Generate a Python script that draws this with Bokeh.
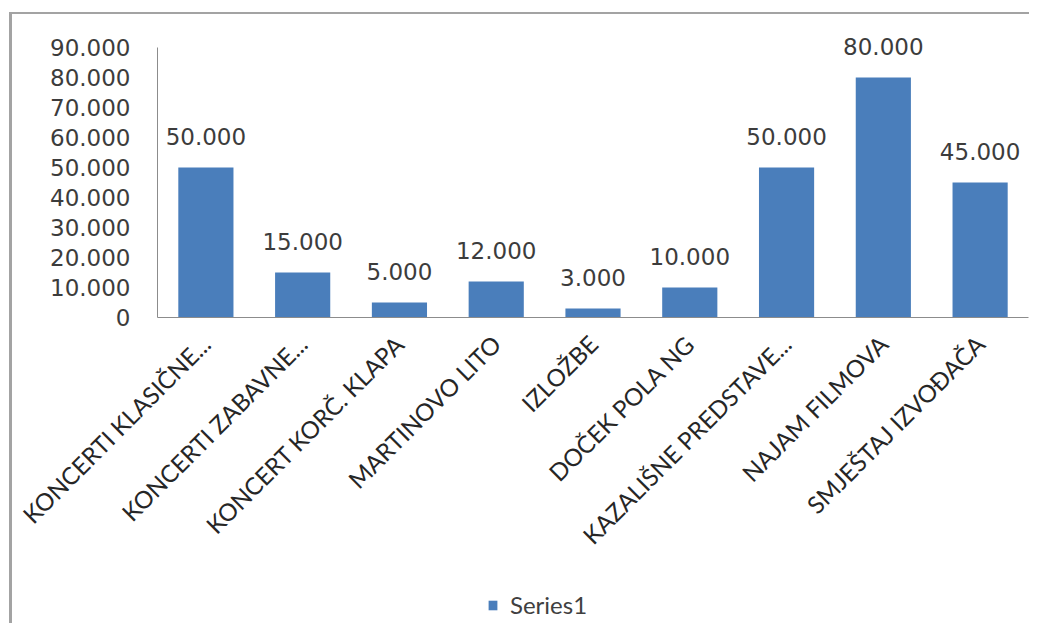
import math
from bokeh.plotting import figure
from bokeh.layouts import column
from bokeh.models import ColumnDataSource, FixedTicker, CustomJSTickFormatter, Legend, LegendItem
from bokeh.core.properties import value
from bokeh.embed import file_html
from bokeh.resources import INLINE

categories = ["KONCERTI KLASIČNE...", "KONCERTI ZABAVNE...", "KONCERT KORČ. KLAPA",
              "MARTINOVO LITO", "IZLOŽBE", "DOČEK POLA NG", "KAZALIŠNE PREDSTAVE...",
              "NAJAM FILMOVA", "SMJEŠTAJ IZVOĐAČA"]
values = [50000, 15000, 5000, 12000, 3000, 10000, 50000, 80000, 45000]
y_ticks = [0, 10000, 20000, 30000, 40000, 50000, 60000, 70000, 80000, 90000]
series_name = "Series1"
bar_color = "#4A7EBB"

labels = [f"{v:,}".replace(",", ".") for v in values]
src = ColumnDataSource(dict(cat=categories, val=values, lab=labels))

p = figure(x_range=categories, y_range=(0, 96000), width=1029, height=580,
           output_backend="svg", toolbar_location=None,
           min_border_left=157, min_border_right=1, min_border_top=29, min_border_bottom=263)

bars = p.vbar(x="cat", top="val", width=0.57, source=src, fill_color=bar_color, line_color=None)
p.text(x="cat", y="val", text="lab", source=src, y_offset=-23, text_align="center",
       text_baseline="bottom", text_font=value("DejaVu Sans"), text_font_size="23px",
       text_color="#3C3C3C")

p.outline_line_color = None
p.xgrid.grid_line_color = None
p.ygrid.grid_line_color = None
p.background_fill_color = None
p.border_fill_color = None

p.yaxis.bounds = (0, 90000)
p.yaxis.ticker = FixedTicker(ticks=y_ticks)
p.yaxis.formatter = CustomJSTickFormatter(code="return tick.toString().replace(/\\B(?=(\\d{3})+(?!\\d))/g, '.');")
p.yaxis.major_label_text_font = "DejaVu Sans"
p.yaxis.major_label_text_font_size = "23px"
p.yaxis.major_label_text_color = "#3C3C3C"
p.yaxis.major_label_standoff = 27
p.yaxis.major_tick_out = 0
p.yaxis.major_tick_in = 0
p.yaxis.major_tick_line_color = None
p.yaxis.minor_tick_line_color = None
p.yaxis.axis_line_color = "#8C8C8C"

p.xaxis.major_label_orientation = math.pi / 4
p.xaxis.major_label_text_font = "Lato"
p.xaxis.major_label_text_font_size = "24px"
p.xaxis.major_label_text_color = "#262626"
p.xaxis.major_label_standoff = 22
p.xaxis.major_tick_out = 0
p.xaxis.major_tick_in = 0
p.xaxis.major_tick_line_color = None
p.xaxis.minor_tick_line_color = None
p.xaxis.axis_line_color = "#8C8C8C"

# legend strip below the chart
p2 = figure(width=1029, height=43, x_range=(0, 1), y_range=(0, 1),
            output_backend="svg", toolbar_location=None,
            min_border_left=0, min_border_right=0, min_border_top=0, min_border_bottom=0)
p2.xaxis.visible = False
p2.yaxis.visible = False
p2.grid.visible = False
p2.outline_line_color = None
p2.background_fill_color = None
p2.border_fill_color = None
dummy = p2.vbar(x=[0.5], top=[0], width=0.5, fill_color=bar_color, line_color=None)
legend = Legend(items=[LegendItem(label=series_name, renderers=[dummy])],
                location=(330, 4), orientation="horizontal",
                label_text_font="Lato", label_text_font_size="24px", label_text_color="#404040",
                glyph_width=11, glyph_height=12, padding=0, margin=0, spacing=0,
                label_standoff=12, border_line_color=None, background_fill_alpha=0)
p2.add_layout(legend, "center")

layout = column(p, p2, spacing=0)
layout.styles = {"background": "linear-gradient(#A3A3A3,#A3A3A3) 9px 12px / 3px 100% no-repeat, "
                               "linear-gradient(#A3A3A3,#A3A3A3) 9px 12px / 100% 2px no-repeat, white"}

open("out.html", "w").write(file_html(layout, INLINE))
